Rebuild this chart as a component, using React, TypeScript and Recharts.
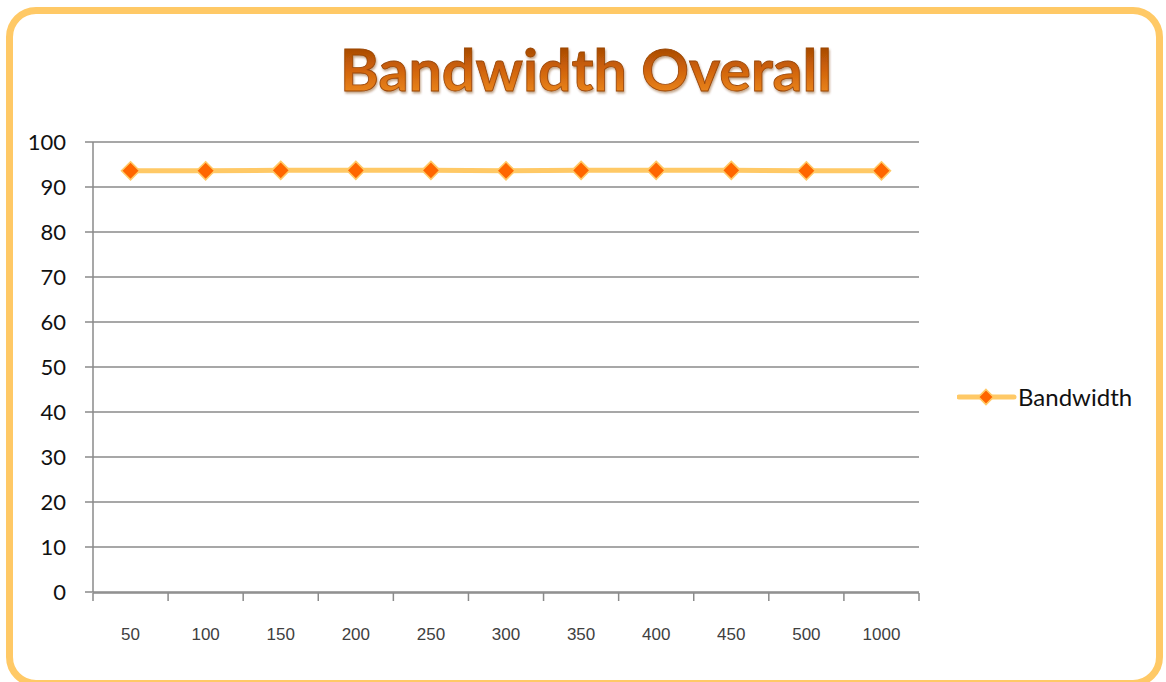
import React from "react";
import {
  LineChart,
  Line,
  XAxis,
  YAxis,
  CartesianGrid,
  Legend,
} from "recharts";

const sizes = ["50", "100", "150", "200", "250", "300", "350", "400", "450", "500", "1000"];
const bandwidth = [93.6, 93.6, 93.7, 93.7, 93.7, 93.6, 93.7, 93.7, 93.7, 93.6, 93.6];
const yTicks = [0, 10, 20, 30, 40, 50, 60, 70, 80, 90, 100];
// category boundaries for the "between" tick marks
const edgeTicks = sizes.map((_, i) => i).concat(sizes.length);

const data = sizes.map((size, i) => ({ size, slot: i + 0.5, bandwidth: bandwidth[i] }));

const LINE = "#ffc966";
const MARKER = "#ff6600";
const GRID = "#8a8a8a";
const FONT = "Lato, 'Open Sans', sans-serif";

const W = 1166;
const H = 682;
const PLOT_LEFT = 93;
const PLOT_RIGHT = 919;
const BAND = (PLOT_RIGHT - PLOT_LEFT) / sizes.length;

const Diamond = ({ cx, cy, r = 9 }: { cx: number; cy: number; r?: number }) => (
  <polygon
    points={`${cx},${cy - r} ${cx + r},${cy} ${cx},${cy + r} ${cx - r},${cy}`}
    fill={MARKER}
    stroke={LINE}
    strokeWidth={1.6}
  />
);

const LegendContent = () => (
  <div style={{ display: "flex", alignItems: "center", fontFamily: FONT, fontSize: 24, color: "#111", lineHeight: "24px" }}>
    <svg width={60} height={24}>
      <line x1={2} y1={12} x2={57} y2={12} stroke={LINE} strokeWidth={5} strokeLinecap="round" />
      <Diamond cx={29} cy={12} r={7.5} />
    </svg>
    <span style={{ marginLeft: 1 }}>Bandwidth</span>
  </div>
);

const NoLabel = () => <g />;

export default function App() {
  return (
    <div style={{ position: "relative", width: W, height: H, background: "#fff", overflow: "hidden" }}>
      <style>{"body{margin:0}"}</style>
      <div
        style={{
          position: "absolute",
          left: 6,
          top: 7,
          width: 1157,
          height: 680,
          border: `7px solid ${LINE}`,
          borderRadius: 30,
          boxSizing: "border-box",
        }}
      />
      <svg width={W} height={120} style={{ position: "absolute", left: 0, top: 0 }}>
        <defs>
          <linearGradient id="titleFill" x1="0" y1="0" x2="0" y2="1">
            <stop offset="0%" stopColor="#8f3c00" />
            <stop offset="50%" stopColor="#cf620a" />
            <stop offset="100%" stopColor="#f69425" />
          </linearGradient>
          <filter id="titleShadow" x="-5%" y="-20%" width="110%" height="150%">
            <feDropShadow dx="1" dy="2" stdDeviation="1.2" floodColor="#7a3a08" floodOpacity="0.45" />
          </filter>
        </defs>
        <text
          x={586}
          y={91}
          textAnchor="middle"
          textLength={492}
          lengthAdjust="spacingAndGlyphs"
          fontFamily={FONT}
          fontWeight={700}
          fontSize={57}
          fill="url(#titleFill)"
          stroke="#9a4608"
          strokeWidth={0.8}
          filter="url(#titleShadow)"
        >
          Bandwidth Overall
        </text>
      </svg>
      <div style={{ position: "absolute", left: 0, top: 0 }}>
        <LineChart
          width={W}
          height={H}
          data={data}
          margin={{ top: 142, right: W - PLOT_RIGHT, bottom: 88, left: PLOT_LEFT - 60 }}
        >
          <CartesianGrid vertical={false} stroke={GRID} strokeWidth={1.5} />
          <XAxis
            xAxisId="edge"
            dataKey="slot"
            type="number"
            domain={[0, sizes.length]}
            ticks={edgeTicks}
            interval={0}
            height={1}
            tick={NoLabel}
            tickSize={8}
            axisLine={{ stroke: GRID, strokeWidth: 1.5 }}
            tickLine={{ stroke: GRID, strokeWidth: 1.5 }}
          />
          <XAxis
            dataKey="size"
            height={1}
            padding={{ left: BAND / 2, right: BAND / 2 }}
            axisLine={false}
            tickLine={false}
            tickSize={0}
            tickMargin={36}
            interval={0}
            tick={{ fontFamily: "'Liberation Sans', Arial, sans-serif", fontSize: 17, fill: "#404040" }}
          />
          <YAxis
            width={60}
            domain={[0, 100]}
            ticks={yTicks}
            interval={0}
            tickSize={8}
            tickMargin={19}
            axisLine={{ stroke: GRID, strokeWidth: 1.5 }}
            tickLine={{ stroke: GRID, strokeWidth: 1.5 }}
            tick={{ fontFamily: FONT, fontSize: 22, fill: "#111" }}
          />
          <Legend
            layout="horizontal"
            align="center"
            verticalAlign="middle"
            content={<LegendContent />}
            wrapperStyle={{ left: 957, top: 385, width: 200, height: 24 }}
          />
          <Line
            type="linear"
            dataKey="bandwidth"
            name="Bandwidth"
            stroke={LINE}
            strokeWidth={5}
            isAnimationActive={false}
            dot={(p: any) => <Diamond key={`d-${p.index}`} cx={p.cx} cy={p.cy} />}
            activeDot={false}
          />
        </LineChart>
      </div>
    </div>
  );
}
